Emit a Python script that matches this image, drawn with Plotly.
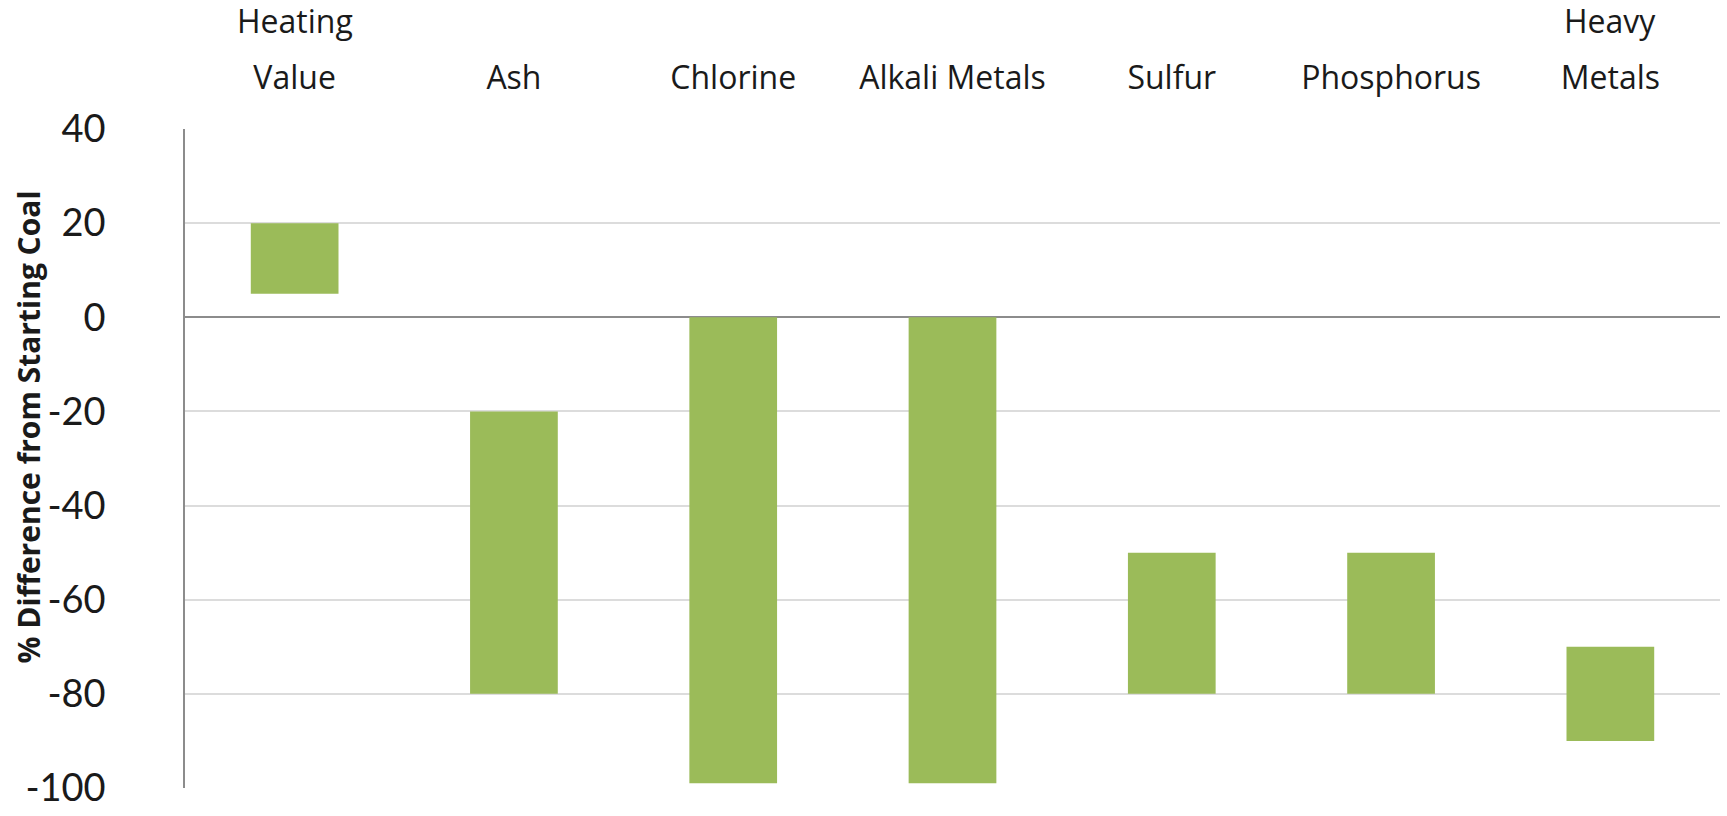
import plotly.graph_objects as go

categories = ["Heating Value", "Ash", "Chlorine", "Alkali Metals", "Sulfur", "Phosphorus", "Heavy Metals"]
label_bottom = ["Value", "Ash", "Chlorine", "Alkali Metals", "Sulfur", "Phosphorus", "Metals"]
label_top = ["Heating", "", "", "", "", "", "Heavy"]
bar_low = [5, -80, -99, -99, -80, -80, -90]
bar_high = [20, -20, 0, 0, -50, -50, -70]
y_ticks = [40, 20, 0, -20, -40, -60, -80, -100]

heights = [h - l for h, l in zip(bar_high, bar_low)]

fig = go.Figure()
fig.add_trace(go.Bar(
    x=categories, y=heights, base=bar_low,
    marker=dict(color="#9BBB59", line=dict(width=0)),
    width=0.4, hoverinfo="skip",
))

lato = "Lato, 'Open Sans', sans-serif"
osans = "'Open Sans', Lato, sans-serif"
cat_size = 32

for c, t in zip(categories, label_top):
    if t:
        fig.add_annotation(
            x=c, xref="x", y=1, yref="paper", yanchor="bottom",
            text=t, showarrow=False, yshift=85,
            font=dict(family=osans, size=cat_size, color="#1a1a1a"),
        )

fig.add_annotation(
    x=0, xref="paper", xanchor="center", xshift=-157,
    y=0.5, yref="paper", yanchor="middle", yshift=31,
    text="<b>% Difference from Starting Coal</b>", textangle=-90, showarrow=False,
    font=dict(family=osans, size=30, color="#1a1a1a"),
)

fig.update_layout(
    width=1727, height=816,
    margin=dict(l=185, r=7, t=129, b=23),
    paper_bgcolor="white", plot_bgcolor="white",
    showlegend=False,
    font=dict(family=lato, color="#1a1a1a"),
    xaxis=dict(
        side="top", showgrid=False, showline=False, zeroline=False,
        tickmode="array", tickvals=categories, ticktext=label_bottom,
        ticks="", tickfont=dict(family=osans, size=cat_size, color="#1a1a1a"),
        ticklabelstandoff=33,
    ),
    yaxis=dict(
        range=[-100, 40], tickvals=y_ticks, ticktext=[str(v) for v in y_ticks],
        showgrid=True, gridcolor="#dcdcdc", gridwidth=1.5,
        zeroline=True, zerolinecolor="#8c8c8c", zerolinewidth=1.5,
        showline=True, linecolor="#8c8c8c", linewidth=1.5,
        ticks="", tickfont=dict(size=38, color="#1a1a1a"),
        ticklabelstandoff=70,
    ),
)
fig.write_html("out.html")
